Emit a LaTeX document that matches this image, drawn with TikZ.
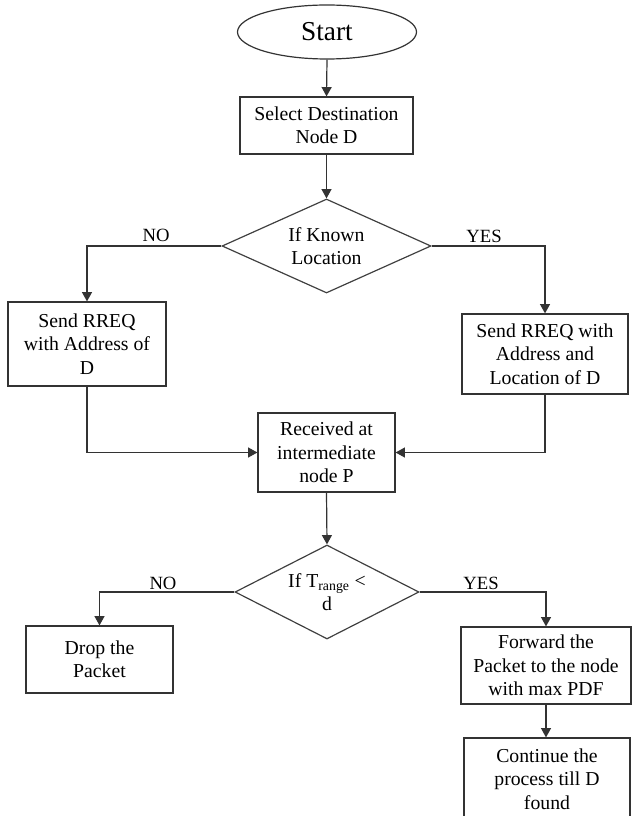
\documentclass[tikz,border=0pt]{standalone}
\usepackage{fontspec}
\setmainfont{Liberation Serif}
\usetikzlibrary{shapes.geometric,arrows.meta}
\begin{document}
\begin{tikzpicture}[x=0.75pt,y=-0.75pt,
  txt/.style={font=\fontsize{14.8pt}{17.5pt}\selectfont, text=black, align=center},
  box/.style={txt, draw=black!80, line width=0.9pt, rectangle, inner sep=0pt},
  dec/.style={draw=black!75, line width=0.9pt, diamond, inner sep=0pt},
  conn/.style={draw=black!80, line width=0.9pt, -{Triangle[length=7pt,width=7.5pt]}},
  lab/.style={font=\fontsize{14pt}{16pt}\selectfont, text=black, inner sep=0pt}
]
\useasboundingbox (0,0) rectangle (632,816);
\clip (0,0) rectangle (632,816);

\node[draw=black!80, line width=0.9pt, ellipse, inner sep=0pt,
      minimum width=179*0.75pt, minimum height=54*0.75pt,
      font=\fontsize{20.5pt}{24pt}\selectfont] (start) at (327,32) {Start};
\node[box, minimum width=173*0.75pt, minimum height=57*0.75pt] (sel) at (326.5,125.5) {Select Destination\\Node D};
\node[dec, minimum width=209*0.75pt, minimum height=94*0.75pt,
      label={[txt]center:If Known\\Location}] (known) at (326.5,246) {};
\node[box, minimum width=158*0.75pt, minimum height=84*0.75pt] (rreqa) at (87,344) {Send RREQ\\with Address of\\D};
\node[box, minimum width=166*0.75pt, minimum height=80*0.75pt] (rreqb) at (545,354) {Send RREQ with\\Address and\\Location of D};
\node[box, minimum width=137*0.75pt, minimum height=79*0.75pt] (recv) at (326.5,452.5) {Received at\\intermediate\\node P};
\node[dec, minimum width=184*0.75pt, minimum height=94*0.75pt,
      label={[txt]center:If T\textsubscript{range} <\\d}] (range) at (327,592) {};
\node[box, minimum width=147*0.75pt, minimum height=67*0.75pt] (drop) at (99.5,659.5) {Drop the\\Packet};
\node[box, minimum width=170*0.75pt, minimum height=77*0.75pt] (fwd) at (546,665.5) {Forward the\\Packet to the node\\with max PDF};
\node[box, minimum width=166*0.75pt, minimum height=82*0.75pt] (cont) at (547,779) {Continue the\\process till D\\found};

\node[lab] (no1) at (156,235) {NO};
\node[lab] (yes1) at (484,236) {YES};
\node[lab] (no2) at (163,583) {NO};
\node[lab] (yes2) at (481,583) {YES};

\draw[conn] (start.south) -- (sel.north);
\draw[conn] (sel.south) -- (known.north);
\draw[conn] (known.west) -| (rreqa.north);
\draw[conn] (known.east) -| (rreqb.north);
\draw[conn] (rreqa.south) |- (recv.west);
\draw[conn] (rreqb.south) |- (recv.east);
\draw[conn] (recv.south) -- (range.north);
\draw[conn] (range.west) -| (drop.north);
\draw[conn] (range.east) -| (fwd.north);
\draw[conn] (fwd.south) -- (fwd.south |- cont.north);
\end{tikzpicture}
\end{document}
